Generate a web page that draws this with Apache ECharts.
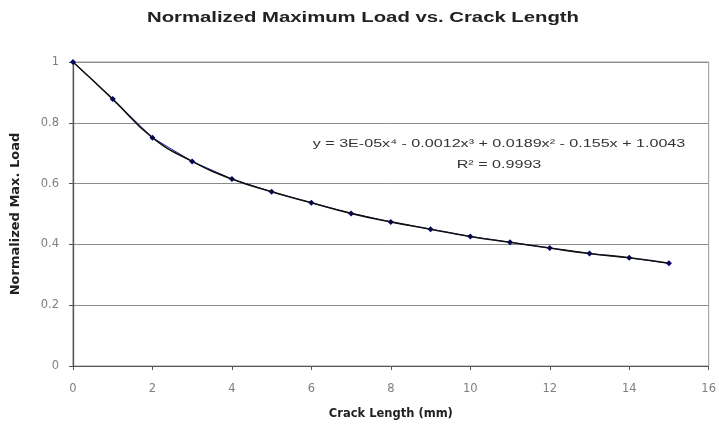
<!DOCTYPE html>
<html>
<head>
<meta charset="utf-8">
<script src="https://cdn.jsdelivr.net/npm/echarts@6/dist/echarts.min.js"></script>
<style>
  html, body { margin: 0; padding: 0; background: #fff; }
  #chart { width: 719px; height: 425px; }
</style>
</head>
<body>
<div id="chart"></div>
<script>
// Crack length (mm) and normalized maximum load measurements
const crackLength = [0, 1, 2, 3, 4, 5, 6, 7, 8, 9, 10, 11, 12, 13, 14, 15];
const normLoad = [1.0, 0.878, 0.751, 0.673, 0.615, 0.573, 0.537, 0.502, 0.474, 0.450, 0.426, 0.407, 0.388, 0.370, 0.356, 0.338];
const yTicks = [0, 0.2, 0.4, 0.6, 0.8, 1];
const xTicks = [0, 2, 4, 6, 8, 10, 12, 14, 16];
const chartTitle = 'Normalized Maximum Load vs. Crack Length';
const fitEquation = 'y = 3E-05x\u2074 - 0.0012x\u00B3 + 0.0189x\u00B2 - 0.155x + 1.0043';
const fitR2 = 'R\u00B2 = 0.9993';

const points = crackLength.map((x, i) => [x, normLoad[i]]);
const ARIAL = '"Liberation Sans", Arial, sans-serif';
const WIDE = '"DejaVu Sans", Verdana, sans-serif';

const chart = echarts.init(document.getElementById('chart'), null, { renderer: 'canvas' });
chart.setOption({
  animation: false,
  backgroundColor: '#fff',
  grid: { left: 73, right: 8, top: 62, bottom: 57, show: true, borderColor: '#999', borderWidth: 1 },
  xAxis: {
    type: 'value', min: xTicks[0], max: xTicks[xTicks.length - 1], interval: 2,
    name: 'Crack Length (mm)', nameLocation: 'middle', nameGap: 42,
    nameTextStyle: { fontFamily: WIDE, fontWeight: 'bold', fontSize: 11.5, color: '#222' },
    axisLine: { lineStyle: { color: '#555', width: 1 } },
    axisTick: { show: true, length: 4, lineStyle: { color: '#555' } },
    axisLabel: { fontFamily: WIDE, fontSize: 11.5, color: '#808080', margin: 17 },
    splitLine: { show: false }
  },
  yAxis: {
    type: 'value', min: yTicks[0], max: yTicks[yTicks.length - 1], interval: 0.2,
    name: 'Normalized Max. Load', nameLocation: 'middle', nameGap: 51, nameRotate: 90,
    nameTextStyle: { fontFamily: WIDE, fontWeight: 'bold', fontSize: 13, color: '#222' },
    axisLine: { show: true, lineStyle: { color: '#555', width: 1.3 } },
    axisTick: { show: true, length: 4, lineStyle: { color: '#555' } },
    axisLabel: { fontFamily: WIDE, fontSize: 11.5, color: '#808080', margin: 14 },
    splitLine: { show: true, lineStyle: { color: '#8c8c8c', width: 1 } }
  },
  series: [
    {
      name: 'Measured',
      type: 'line',
      data: points,
      symbol: 'diamond', symbolSize: 6,
      itemStyle: { color: '#000080' },
      lineStyle: { color: '#2020a8', width: 1 },
      z: 2
    },
    {
      name: 'Poly. fit',
      type: 'line',
      data: points,
      smooth: 0.5,
      showSymbol: false,
      lineStyle: { color: '#111', width: 1.6 },
      z: 3
    }
  ],
  graphic: [
    { type: 'text', x: 363, y: 18, scaleX: 1.45,
      style: { text: chartTitle, font: 'bold 14px ' + ARIAL, fill: '#222',
               textAlign: 'center', textVerticalAlign: 'middle' } },
    { type: 'text', x: 499, y: 144, scaleX: 1.4,
      style: { text: fitEquation, font: '11.5px ' + ARIAL, fill: '#333',
               textAlign: 'center', textVerticalAlign: 'middle' } },
    { type: 'text', x: 499, y: 165, scaleX: 1.4,
      style: { text: fitR2, font: '11.5px ' + ARIAL, fill: '#333',
               textAlign: 'center', textVerticalAlign: 'middle' } }
  ]
});
</script>
</body>
</html>
